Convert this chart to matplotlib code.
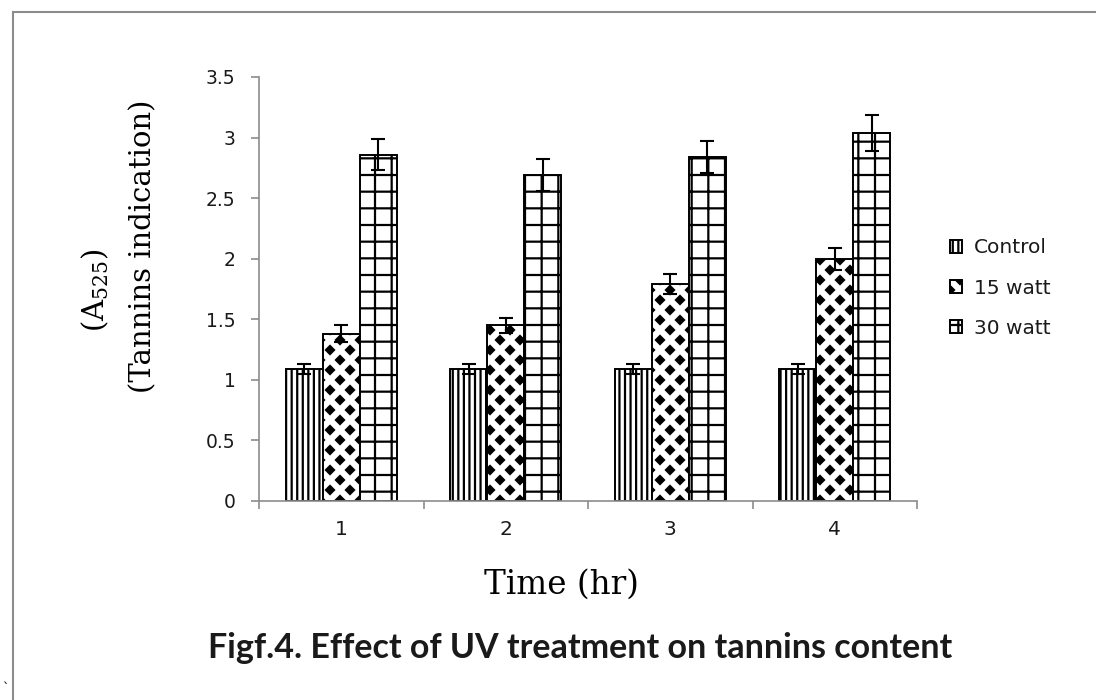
import numpy as np
import matplotlib
matplotlib.use('Agg')
import matplotlib.pyplot as plt
import matplotlib.hatch as mhatch
from matplotlib.path import Path
from matplotlib.lines import Line2D

# Data
times = ['1', '2', '3', '4']
control = [1.09, 1.09, 1.09, 1.09]
control_err = [0.045, 0.045, 0.045, 0.045]
watt15 = [1.38, 1.45, 1.79, 2.00]
watt15_err = [0.07, 0.06, 0.08, 0.09]
watt30 = [2.86, 2.69, 2.84, 3.04]
watt30_err = [0.13, 0.13, 0.13, 0.15]
series_names = ['Control', '15 watt', '30 watt']
y_ticks = [0, 0.5, 1, 1.5, 2, 2.5, 3, 3.5]


# Excel-like "diamond checker" hatch, used in place of the star hatch
class Diamonds(mhatch.HatchPatternBase):
    r = 0.04

    def __init__(self, hatch, density):
        self.n = 5 if '*' in hatch else 0
        self.centers = []
        if self.n:
            for row in range(2 * self.n + 1):
                y = row / (2 * self.n)
                if row % 2 == 0:
                    cols = [i / self.n for i in range(self.n + 1)]
                else:
                    cols = [(i + 0.5) / self.n for i in range(self.n)]
                self.centers += [(c, y) for c in cols]
        self.num_vertices = 5 * len(self.centers)

    def set_vertices_and_codes(self, vertices, codes):
        r = self.r
        shape = np.array([[0, r], [-r, 0], [0, -r], [r, 0], [0, r]])
        for k, (cx, cy) in enumerate(self.centers):
            vertices[5 * k:5 * k + 5] = shape + [cx, cy]
            codes[5 * k] = Path.MOVETO
            codes[5 * k + 1:5 * k + 4] = Path.LINETO
            codes[5 * k + 4] = Path.CLOSEPOLY


mhatch._hatch_types = [Diamonds if t is mhatch.Stars else t for t in mhatch._hatch_types]

plt.rcParams['hatch.linewidth'] = 1.6
plt.rcParams['mathtext.fontset'] = 'dejavuserif'

fig = plt.figure(figsize=(10.96, 7.0), dpi=100)
ax = fig.add_axes([259 / 1096, 199 / 700, (917 - 259) / 1096, 424 / 700])

x = np.arange(1, len(times) + 1)
w = 0.225
values = [control, watt15, watt30]
errors = [control_err, watt15_err, watt30_err]
hatches = ['|||', '*', '+']

for i, (vals, errs, h, name) in enumerate(zip(values, errors, hatches, series_names)):
    pos = x + (i - 1) * w
    ax.bar(pos, vals, width=w, facecolor='white', edgecolor='black',
           linewidth=1.4, hatch=h, label=name, zorder=2)
    ax.errorbar(pos, vals, yerr=errs, fmt='none', ecolor='black',
                elinewidth=1.5, capsize=5, capthick=1.5, zorder=3)

ax.set_xlim(0.5, len(times) + 0.5)
ax.set_ylim(0, 3.5)
ax.set_yticks(y_ticks)
ax.set_yticklabels(['0', '0.5', '1', '1.5', '2', '2.5', '3', '3.5'])
ax.set_xticks(x)
ax.set_xticklabels(times)
ax.set_xticks(np.arange(0.5, len(times) + 1, 1), minor=True)

for s in ['top', 'right']:
    ax.spines[s].set_visible(False)
for s in ['left', 'bottom']:
    ax.spines[s].set_color('#8c8c8c')
    ax.spines[s].set_linewidth(1.2)

ax.tick_params(axis='y', direction='out', length=6, width=1.2, color='#8c8c8c',
               labelsize=13.5, pad=11, labelcolor='#1a1a1a')
ax.tick_params(axis='x', which='major', length=0, labelsize=14.5, pad=14,
               labelcolor='#1a1a1a')
ax.tick_params(axis='x', which='minor', direction='out', length=6, width=1.2,
               color='#8c8c8c')

# axis titles
fig.text(95 / 1096, 1 - 290 / 700, '(A$_{525}$)', rotation=90, ha='center',
         va='center', fontsize=21, family='DejaVu Serif')
fig.text(143 / 1096, 1 - 246 / 700, '(Tannins indication)', rotation=90,
         ha='center', va='center', fontsize=21, family='DejaVu Serif')
fig.text(561 / 1096, 1 - 585 / 700, 'Time (hr)', ha='center', va='center',
         fontsize=23.5, family='DejaVu Serif')

# caption
fig.text(580 / 1096, 1 - 648 / 700,
         'Figf.4. Effect of UV treatment on tannins content',
         ha='center', va='center', fontsize=24.5, fontweight='bold',
         family='Lato', color='#1a1a1a')

leg = ax.legend(loc='center left', bbox_to_anchor=(950 / 1096, 1 - 288 / 700),
                bbox_transform=fig.transFigure, frameon=False, fontsize=14.5,
                handlelength=0.6, handleheight=0.6, handletextpad=0.6,
                labelspacing=1.05, borderpad=0, borderaxespad=0)
for t in leg.get_texts():
    t.set_color('#1a1a1a')

# outer frame lines and stray mark
fig.add_artist(Line2D([13 / 1096, 13 / 1096], [0, 1 - 12 / 700],
                      color='#8c8c8c', linewidth=1.5))
fig.add_artist(Line2D([13 / 1096, 1], [1 - 12 / 700, 1 - 12 / 700],
                      color='#8c8c8c', linewidth=1.5))
fig.text(3 / 1096, 1 - 692 / 700, '`', fontsize=9, color='black')

fig.savefig('out.png', dpi=100)
